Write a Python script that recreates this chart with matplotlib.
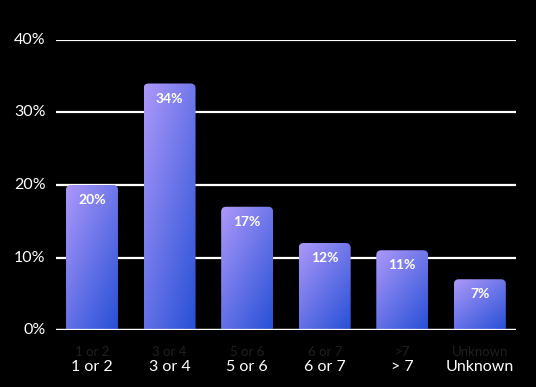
import numpy as np
import matplotlib.pyplot as plt
from matplotlib.patches import FancyBboxPatch
from matplotlib.colors import to_rgb

categories = ['1 or 2', '3 or 4', '5 or 6', '6 or 7', '> 7', 'Unknown']
ghost_labels = ['1 or 2', '3 or 4', '5 or 6', '6 or 7', '>7', 'Unknown']
values = [20, 34, 17, 12, 11, 7]
yticks = [0, 10, 20, 30, 40]

plt.rcParams['font.family'] = ['Lato', 'DejaVu Sans']

fig = plt.figure(figsize=(5.36, 3.87), dpi=100, facecolor='black')
ax = fig.add_axes([56 / 536, 57 / 387, 460 / 536, 290 / 387])
ax.set_facecolor('black')

ax.set_xlim(-0.464, 5.466)
ax.set_ylim(0, 40)

# gridlines behind the bars
for y in yticks:
    ax.axhline(y, color='white', lw=1.6, zorder=1)

c_top = np.array(to_rgb('#ad98fa'))
c_bot = np.array(to_rgb('#2650d6'))

bar_w = 0.67
# x units per px vs y units per px, so the rounded corners stay circular
x_per_px = (5.466 + 0.464) / 460
y_per_px = 40 / 290
radius = 5 * x_per_px
aspect = y_per_px / x_per_px

gx, gy = np.meshgrid(np.linspace(0, 1, 60), np.linspace(0, 1, 120))
t = np.clip(0.45 * gx + 0.55 * gy, 0, 1)  # gy=0 at top row with origin='upper'
grad = c_top[None, None, :] * (1 - t[..., None]) + c_bot[None, None, :] * t[..., None]

for i, v in enumerate(values):
    x0 = i - bar_w / 2
    patch = FancyBboxPatch((x0, -3), bar_w, v + 3,
                           boxstyle=f'round,pad=0,rounding_size={radius}',
                           mutation_aspect=aspect,
                           fc='none', ec='none', zorder=2)
    ax.add_patch(patch)
    im = ax.imshow(grad, extent=(x0, x0 + bar_w, 0, v), origin='upper',
                   aspect='auto', zorder=2, interpolation='bilinear')
    im.set_clip_path(patch)
    ax.text(i, v - 2.1, f'{v}%', ha='center', va='center', color='white',
            fontsize=10, fontweight='bold', zorder=3)

ax.axhline(0, color='white', lw=1.6, zorder=3)

ax.set_xticks([])
ax.set_yticks([])
for s in ax.spines.values():
    s.set_visible(False)

for y in yticks:
    ax.text(-0.6, y, f'{y}%', ha='right', va='center', color='white',
            fontsize=11.5)

for i, (lab, ghost) in enumerate(zip(categories, ghost_labels)):
    ax.text(i, -3.1, ghost, ha='center', va='center', color='#1f1f1f', fontsize=9.5)
    ax.text(i, -5.1, lab, ha='center', va='center', color='white', fontsize=11.5)

fig.savefig('out.png', dpi=100, facecolor='black')
